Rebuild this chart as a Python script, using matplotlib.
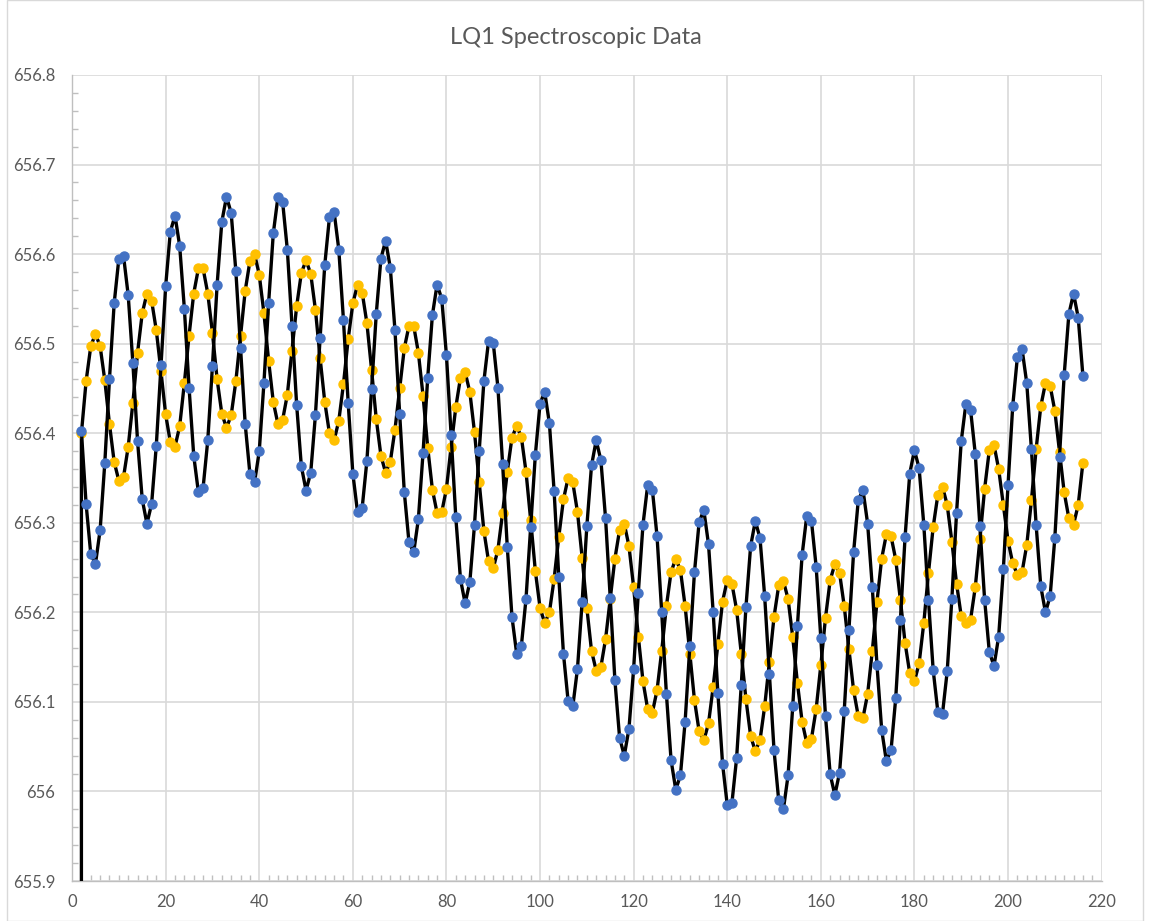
import matplotlib
matplotlib.use("Agg")
import matplotlib.pyplot as plt
import numpy as np
from matplotlib.patches import Rectangle
from matplotlib.ticker import MultipleLocator

# sample number (x) and measured wavelength (y) for the two line components
sample = list(range(2, 217))

blue_y = [
    656.402, 656.321, 656.265, 656.254, 656.292, 656.367, 656.461, 656.545, 656.595, 656.598,
    656.554, 656.478, 656.391, 656.326, 656.299, 656.321, 656.386, 656.476, 656.564, 656.625,
    656.643, 656.609, 656.539, 656.451, 656.375, 656.334, 656.339, 656.392, 656.475, 656.566,
    656.636, 656.664, 656.646, 656.581, 656.495, 656.410, 656.355, 656.345, 656.380, 656.456,
    656.545, 656.623, 656.664, 656.658, 656.605, 656.520, 656.431, 656.363, 656.336, 656.356,
    656.420, 656.506, 656.588, 656.641, 656.647, 656.605, 656.526, 656.434, 656.355, 656.312,
    656.317, 656.369, 656.449, 656.533, 656.595, 656.615, 656.585, 656.515, 656.422, 656.334,
    656.278, 656.267, 656.304, 656.378, 656.462, 656.532, 656.566, 656.550, 656.487, 656.398,
    656.306, 656.237, 656.210, 656.234, 656.298, 656.380, 656.458, 656.503, 656.501, 656.451,
    656.366, 656.273, 656.195, 656.154, 656.162, 656.215, 656.295, 656.376, 656.433, 656.446,
    656.411, 656.336, 656.240, 656.154, 656.101, 656.095, 656.137, 656.212, 656.296, 656.364,
    656.392, 656.370, 656.305, 656.216, 656.124, 656.060, 656.040, 656.070, 656.137, 656.222,
    656.298, 656.342, 656.337, 656.285, 656.200, 656.109, 656.035, 656.002, 656.018, 656.078,
    656.162, 656.245, 656.301, 656.314, 656.276, 656.200, 656.110, 656.031, 655.985, 655.987,
    656.037, 656.119, 656.206, 656.274, 656.302, 656.283, 656.218, 656.131, 656.046, 655.990,
    655.980, 656.018, 656.095, 656.185, 656.264, 656.308, 656.302, 656.251, 656.171, 656.084,
    656.019, 655.996, 656.021, 656.090, 656.180, 656.267, 656.325, 656.337, 656.299, 656.228,
    656.141, 656.069, 656.034, 656.046, 656.104, 656.191, 656.284, 656.355, 656.381, 656.361,
    656.298, 656.214, 656.136, 656.089, 656.087, 656.134, 656.215, 656.311, 656.391, 656.433,
    656.426, 656.377, 656.296, 656.214, 656.156, 656.140, 656.173, 656.248, 656.342, 656.430,
    656.485, 656.494, 656.456, 656.382, 656.298, 656.229, 656.200, 656.218, 656.283, 656.373,
    656.465, 656.533, 656.556, 656.529, 656.464,
]

orange_y = [
    656.400, 656.458, 656.497, 656.511, 656.497, 656.459, 656.410, 656.368, 656.347, 656.351,
    656.385, 656.434, 656.490, 656.534, 656.556, 656.548, 656.515, 656.469, 656.421, 656.390,
    656.385, 656.408, 656.456, 656.509, 656.556, 656.584, 656.584, 656.556, 656.512, 656.460,
    656.422, 656.406, 656.420, 656.458, 656.509, 656.559, 656.592, 656.600, 656.577, 656.534,
    656.481, 656.435, 656.410, 656.415, 656.443, 656.492, 656.542, 656.579, 656.593, 656.578,
    656.538, 656.484, 656.435, 656.400, 656.392, 656.414, 656.455, 656.505, 656.545, 656.566,
    656.557, 656.523, 656.471, 656.416, 656.375, 656.356, 656.368, 656.404, 656.450, 656.495,
    656.520, 656.520, 656.490, 656.442, 656.384, 656.337, 656.311, 656.312, 656.338, 656.385,
    656.429, 656.462, 656.468, 656.446, 656.401, 656.345, 656.291, 656.257, 656.249, 656.270,
    656.311, 656.357, 656.395, 656.408, 656.396, 656.357, 656.303, 656.246, 656.205, 656.188,
    656.200, 656.237, 656.284, 656.326, 656.350, 656.345, 656.312, 656.261, 656.205, 656.157,
    656.135, 656.139, 656.170, 656.215, 656.260, 656.292, 656.299, 656.274, 656.228, 656.173,
    656.123, 656.092, 656.088, 656.113, 656.157, 656.207, 656.245, 656.260, 656.247, 656.207,
    656.154, 656.102, 656.067, 656.057, 656.076, 656.117, 656.165, 656.212, 656.236, 656.232,
    656.203, 656.154, 656.103, 656.062, 656.045, 656.057, 656.095, 656.144, 656.195, 656.230,
    656.235, 656.215, 656.172, 656.121, 656.078, 656.054, 656.059, 656.092, 656.141, 656.194,
    656.236, 656.254, 656.244, 656.207, 656.159, 656.113, 656.084, 656.082, 656.109, 656.157,
    656.212, 656.260, 656.287, 656.285, 656.259, 656.214, 656.166, 656.132, 656.123, 656.143,
    656.188, 656.244, 656.295, 656.331, 656.340, 656.320, 656.279, 656.232, 656.196, 656.188,
    656.192, 656.228, 656.282, 656.338, 656.381, 656.387, 656.360, 656.320, 656.280, 656.255,
    656.242, 656.245, 656.275, 656.325, 656.382, 656.430, 656.456, 656.453, 656.425, 656.379,
    656.334, 656.305, 656.298, 656.320, 656.367,
]

# the spreadsheet series has an empty (zero) first row, which draws the vertical drop at x=2
orange_lead_x = [2]
orange_lead_y = [0.0]

x_ticks = list(range(0, 221, 20))
y_ticks = [655.9, 656.0, 656.1, 656.2, 656.3, 656.4, 656.5, 656.6, 656.7, 656.8]
y_tick_labels = ["655.9", "656", "656.1", "656.2", "656.3", "656.4", "656.5", "656.6", "656.7", "656.8"]

TEXT = "#595959"
GRID = "#d9d9d9"
AXIS = "#bfbfbf"


def main():
    plt.rcParams["font.family"] = ["Lato", "DejaVu Sans"]

    fig = plt.figure(figsize=(11.51, 9.21), dpi=100)
    fig.patches.append(Rectangle((7 / 1151, 0.0005), 1136 / 1151, 0.999, transform=fig.transFigure,
                                 fill=False, edgecolor=GRID, linewidth=1))

    ax = fig.add_axes([0.0626, 0.0434, 0.8945, 0.8752])

    ox = orange_lead_x + sample
    oy = orange_lead_y + orange_y
    ax.plot(ox, oy, color="black", linewidth=2.4, solid_joinstyle="round", zorder=3)
    ax.plot(sample, orange_y, linestyle="none", marker="o", markersize=6.5,
            markerfacecolor="#FFC000", markeredgecolor="#FFC000", zorder=4)

    ax.plot(sample, blue_y, color="black", linewidth=2.4, solid_joinstyle="round", zorder=5)
    ax.plot(sample, blue_y, linestyle="none", marker="o", markersize=6.5,
            markerfacecolor="#4472C4", markeredgecolor="#4472C4", zorder=6)

    ax.set_xlim(0, 220)
    ax.set_ylim(655.9, 656.8)
    ax.set_xticks(x_ticks)
    ax.set_yticks(y_ticks)
    ax.set_yticklabels(y_tick_labels)
    ax.xaxis.set_minor_locator(MultipleLocator(2))
    ax.yaxis.set_minor_locator(MultipleLocator(0.02))

    ax.grid(True, which="major", color=GRID, linewidth=1.2, zorder=0)
    ax.set_axisbelow(True)
    for side in ("top", "right"):
        ax.spines[side].set_visible(False)
    for side in ("left", "bottom"):
        ax.spines[side].set_color(AXIS)
        ax.spines[side].set_linewidth(1)

    ax.tick_params(which="major", length=0, labelsize=12, labelcolor=TEXT)
    ax.tick_params(axis="y", which="major", pad=12)
    ax.tick_params(axis="x", which="major", pad=9)
    ax.tick_params(which="minor", direction="in", length=4, color=AXIS, width=1)

    fig.text(0.5, 1 - 37 / 921, "LQ1 Spectroscopic Data", ha="center", va="center",
             fontsize=17, color=TEXT)

    fig.savefig("out.png", dpi=100)


if __name__ == "__main__":
    main()
